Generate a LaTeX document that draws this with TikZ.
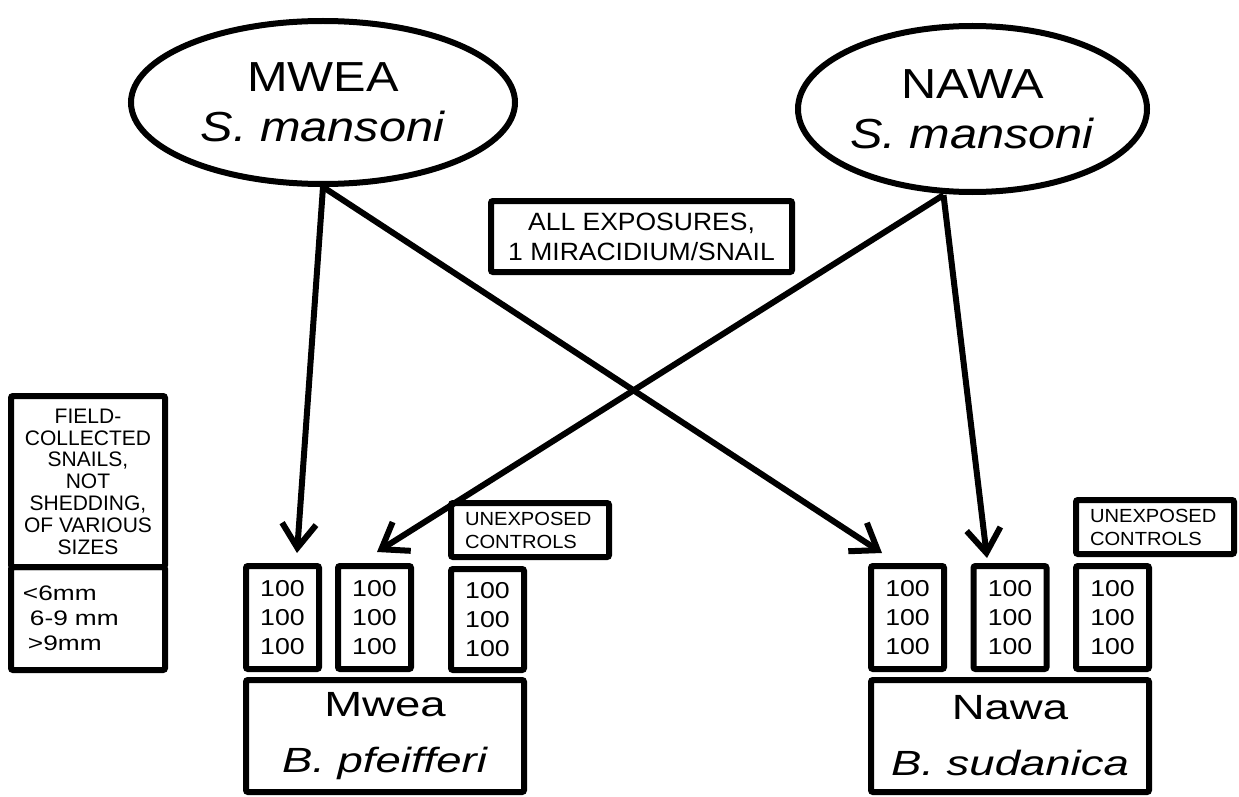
\documentclass[tikz,border=0pt]{standalone}
\usepackage{fontspec}
\setmainfont{Liberation Sans}
\newfontfamily\ellfont{Liberation Sans}[FakeStretch=1.16]
\newfontfamily\sitefont{Liberation Sans}[FakeStretch=1.3]
\newfontfamily\numfont{Liberation Sans}[FakeStretch=1.16]
\newfontfamily\smallfont{Liberation Sans}[FakeStretch=1.06]
\newfontfamily\widefont{Liberation Sans}[FakeStretch=1.25]
\usetikzlibrary{positioning}
\usetikzlibrary{arrows.meta}
\usetikzlibrary{shapes.geometric}

\begin{document}
\begin{tikzpicture}[x=1pt, y=-1pt, line width=6pt,
    box/.style={draw, rounded corners=2pt, inner sep=0pt},
    source/.style={draw, ellipse, inner sep=0pt, align=center, font=\ellfont\fontsize{42}{50}\selectfont},
    numbox/.style={box, minimum width=73pt, minimum height=103pt, align=center, font=\numfont\fontsize{23}{29}\selectfont},
    ctrlbox/.style={box, minimum height=54pt, inner xsep=14pt, text width=130pt, align=left, font=\smallfont\fontsize{19}{23}\selectfont},
    sitebox/.style={box, minimum width=278pt, minimum height=112pt, align=center, font=\sitefont\fontsize{35}{56}\selectfont},
    conn/.style={-{Straight Barb[length=24pt,width=34pt]}}]
    \useasboundingbox (0,0) rectangle (1239,797);

    \node[source, minimum width=384pt, minimum height=163pt] (mweaS) at (323,102.5) {MWEA\\\textit{S. mansoni}};
    \node[source, minimum width=349pt, minimum height=166pt] (nawaS) at (972.5,109) {NAWA\\\textit{S. mansoni}};

    \node[box, minimum width=301pt, minimum height=71pt, align=center, font=\smallfont\fontsize{25}{30}\selectfont] (expo) at (641.5,236.5) {ALL EXPOSURES,\\1 MIRACIDIUM/SNAIL};

    \node[box, minimum width=154pt, minimum height=171pt, align=center, font=\fontsize{21}{21.8}\selectfont] (legend) at (88,481.5) {FIELD-\\COLLECTED\\SNAILS,\\NOT\\SHEDDING,\\OF VARIOUS\\SIZES};
    \node[box, below=-6pt of legend, minimum height=103pt, inner xsep=12pt, text width=130pt, align=left, font=\widefont\fontsize{21}{25}\selectfont] (sizes) {<6mm\\\hspace*{7pt}6-9 mm\\\hspace*{5pt}>9mm};

    \foreach \n/\x in {m1/282.5, m2/374.5, n1/907.5, n2/1010, n3/1112.5}
        \node[numbox] (\n) at (\x,617.5) {100\\100\\100};
    \node[numbox, minimum height=101pt] (m3) at (487.5,619.5) {100\\100\\100};

    \node[ctrlbox, above=6pt of m3.north west, anchor=south west] (mctrl) {UNEXPOSED\\CONTROLS};
    \node[ctrlbox, above=6pt of n3.north west, anchor=south west] (nctrl) {UNEXPOSED\\CONTROLS};

    \node[sitebox, below=5pt of m1.south west, anchor=north west] (mwea) {Mwea\\\textit{B. pfeifferi}};
    \node[sitebox, below=5pt of n1.south west, anchor=north west] (nawa) {Nawa\\\textit{B. sudanica}};

    \draw[conn] (mweaS.south) -- ([xshift=14.5pt,yshift=10pt]m1.north);
    \draw[conn] (mweaS.south) -- ([xshift=-25.5pt,yshift=10pt]n1.north);
    \draw[conn] ([xshift=-29pt]nawaS.south) -- ([xshift=2.5pt,yshift=11pt]m2.north);
    \draw[conn] ([xshift=-29pt]nawaS.south) -- ([xshift=-23pt,yshift=5pt]n2.north);
\end{tikzpicture}
\end{document}
